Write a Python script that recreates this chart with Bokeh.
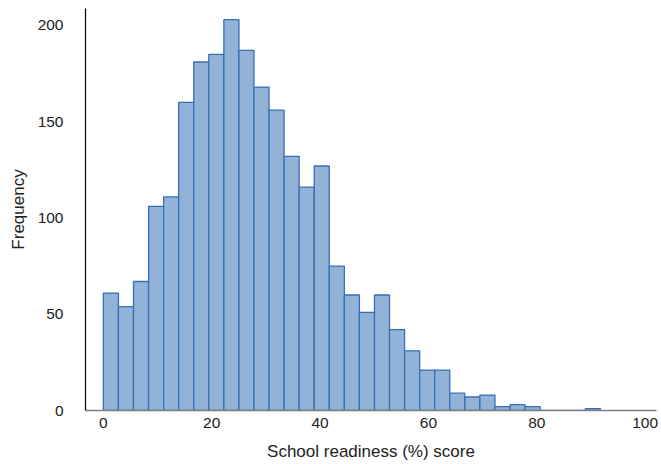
from bokeh.plotting import figure
from bokeh.models import Range1d, FixedTicker
from bokeh.embed import file_html
from bokeh.resources import INLINE

# Data
bin_start = 0.0
bin_width = 2.78
counts = [61, 54, 67, 106, 111, 160, 181, 185, 203, 187, 168, 156, 132, 116, 127,
          75, 60, 51, 60, 42, 31, 21, 21, 9, 7, 8, 2, 3, 2, 0, 0, 0, 1]
x_ticks = [0, 20, 40, 60, 80, 100]
y_ticks = [0, 50, 100, 150, 200]
x_title = "School readiness (%) score"
y_title = "Frequency"

lefts = [bin_start + i * bin_width for i in range(len(counts))]
rights = [l + bin_width for l in lefts]
bottoms = [0] * len(counts)

p = figure(width=660, height=463, output_backend="svg", toolbar_location=None,
           x_range=Range1d(-3.3, 102.1), y_range=Range1d(0, 208.8),
           min_border_left=85, min_border_right=4, min_border_top=8, min_border_bottom=40)
p.outline_line_color = None
p.grid.visible = False
p.background_fill_color = "white"
p.border_fill_color = "white"

p.quad(left=lefts, right=rights, bottom=bottoms, top=counts,
       fill_color="#92b3d7", fill_alpha=1.0, line_color="#3570b5", line_width=1.3)

font = "Liberation Sans"
for ax in (p.xaxis[0], p.yaxis[0]):
    ax.major_tick_line_color = None
    ax.minor_tick_line_color = None
    ax.major_tick_out = 0
    ax.major_tick_in = 0
    ax.minor_tick_out = 0
    ax.minor_tick_in = 0
    ax.major_label_text_font = font
    ax.major_label_text_font_size = "15.5px"
    ax.major_label_text_color = "#222222"
    ax.axis_label_text_font = font
    ax.axis_label_text_font_size = "17px"
    ax.axis_label_text_font_style = "normal"
    ax.axis_label_text_color = "#222222"

p.xaxis.ticker = FixedTicker(ticks=x_ticks)
p.yaxis.ticker = FixedTicker(ticks=y_ticks)
p.xaxis.axis_label = x_title
p.yaxis.axis_label = y_title
p.xaxis.axis_line_color = "#808080"
p.xaxis.axis_line_width = 1.5
p.yaxis.axis_line_color = "black"
p.yaxis.axis_line_width = 1.2
p.xaxis.major_label_standoff = 7
p.xaxis.axis_label_standoff = 11
p.yaxis.major_label_standoff = 22
p.yaxis.axis_label_standoff = 7

open("out.html", "w").write(file_html(p, INLINE))
